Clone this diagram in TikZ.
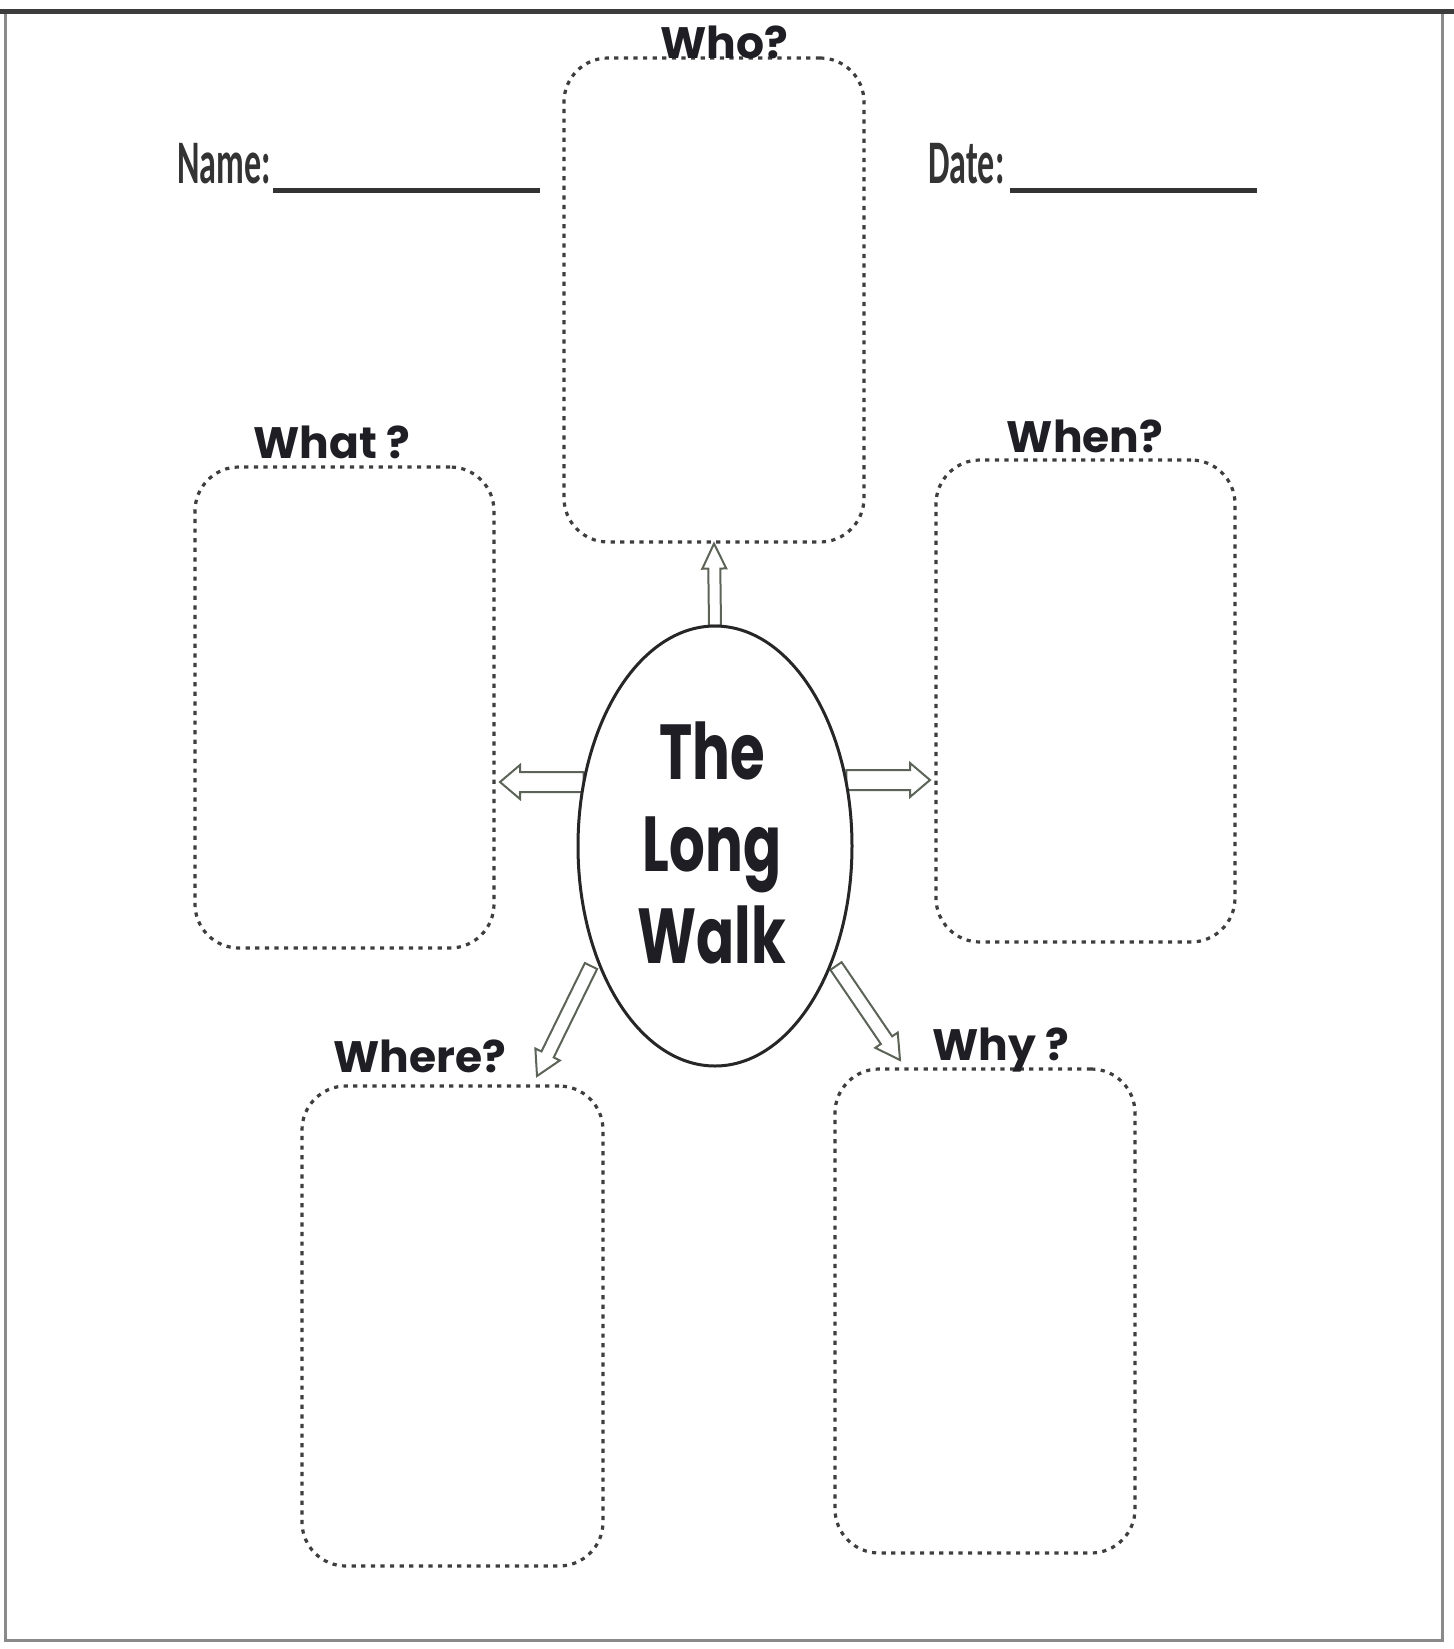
\documentclass[tikz,border=0pt]{standalone}
\usepackage{fontspec}
\usetikzlibrary{calc,shapes.geometric}
\newfontfamily\handfont{Poppins}
\newfontfamily\handnarrow{Poppins}[FakeStretch=0.72]
\newfontfamily\formfont{Carlito}[FakeStretch=0.55]
\definecolor{boxgray}{HTML}{3E3E3E}
\definecolor{arrowgray}{HTML}{5C6458}
\definecolor{inkblack}{HTML}{1E1E24}
\definecolor{framegray}{HTML}{8A8A8A}
\definecolor{topgray}{HTML}{3C3C3C}
% #1 from, #2 tip, #3 shaft half width, #4 head half width, #5 head length
\newcommand\blockarrow[5]{%
  \coordinate (ba-c) at ($(#2)!#5!(#1)$);
  \draw[blockarr] ($(#1)!#3!90:(#2)$) -- ($(ba-c)!#3!90:(#2)$) -- ($(ba-c)!#4!90:(#2)$)
    -- (#2) -- ($(ba-c)!#4!-90:(#2)$) -- ($(ba-c)!#3!-90:(#2)$) -- ($(#1)!#3!-90:(#2)$) -- cycle;}
\begin{document}
\begin{tikzpicture}[x=0.5pt,y=-0.5pt,
  qbox/.style={draw=boxgray, line width=1.6pt, dash pattern=on 2.1pt off 2.7pt,
    rounded corners=22pt, inner sep=0pt},
  qlabel/.style={anchor=base, font=\handfont\bfseries\fontsize{22}{26}\selectfont, text=inkblack, inner sep=0pt},
  formtext/.style={anchor=base west, font=\formfont\bfseries\fontsize{31}{36}\selectfont, text=black!80, inner sep=0pt},
  blank/.style={draw=black!80, line width=2.5pt},
  blockarr/.style={draw=arrowgray, line width=1pt, fill=white, line join=miter},
  ellshape/.style={ellipse, inner sep=0pt, minimum width=137pt, minimum height=220pt},
  centre/.style={ellshape, draw=black!85, line width=1.5pt, fill=white},
  walktext/.style={align=center, inner sep=0pt, text=inkblack,
    font=\handnarrow\bfseries\fontsize{39}{46}\selectfont}]
\useasboundingbox (0,0) rectangle (1454,1649);
\fill[white] (0,0) rectangle (1454,1649);
% frame
\draw[framegray, line width=1.5pt] (5,11) -- (5,1640) -- (1442,1640) -- (1442,11);
\draw[topgray, line width=2.5pt] (0,11) -- (1454,11);
% name / date
\node[formtext] (name) at (177,183) {Name:};
\node[formtext] (date) at (928,183) {Date:};
\coordinate (nameA) at (273,190); \coordinate (nameB) at (540,190);
\coordinate (dateA) at (1010,190); \coordinate (dateB) at (1257,190);
\draw[blank] (nameA) -- (nameB);
\draw[blank] (dateA) -- (dateB);
% question boxes
\node[qbox, minimum width=150pt, minimum height=242pt] (who) at (714,300) {};
\node[qbox, minimum width=149.5pt, minimum height=240.5pt] (what) at (344.5,707.5) {};
\node[qbox, minimum width=149.5pt, minimum height=241pt] (when) at (1085.5,701) {};
\node[qbox, minimum width=150.5pt, minimum height=240pt] (where) at (452.5,1326) {};
\node[qbox, minimum width=150pt, minimum height=242pt] (why) at (985,1311) {};
% labels
\node[qlabel] (whoL) at (724,58) {Who?};
\node[qlabel] (whatL) at (332,458) {What ?};
\node[qlabel] (whenL) at (1085,452) {When?};
\node[qlabel] (whereL) at (420,1072) {Where?};
\node[qlabel] (whyL) at (1001,1060) {Why ?};
% centre ellipse outline (invisible, for the arrows)
\path node[ellshape] (ell) at (715,846) {};
% arrows
\coordinate (tipW) at (500,782);
\coordinate (tipE) at (930,780);
\coordinate (startW) at (ell.154.8);
\coordinate (startE) at (ell.26.4);
\coordinate (startSW) at (591,966);
\coordinate (startSE) at (836,966);
\coordinate (tipSW) at (537,1076);
\coordinate (tipSE) at (900,1060);
\blockarrow{ell.90}{who.south}{3pt}{6pt}{12.5pt}
\blockarrow{startW |- tipW}{tipW}{5pt}{8.5pt}{10pt}
\blockarrow{startE |- tipE}{tipE}{5pt}{8.5pt}{10pt}
\blockarrow{startSW}{tipSW}{3.4pt}{6.8pt}{12pt}
\blockarrow{startSE}{tipSE}{3.4pt}{6.8pt}{12pt}
% drawn ellipse and its text
\node[centre] (ring) at (ell.center) {};
\node[walktext] (walk) at (712,843) {The\\Long\\Walk};
\end{tikzpicture}
\end{document}
